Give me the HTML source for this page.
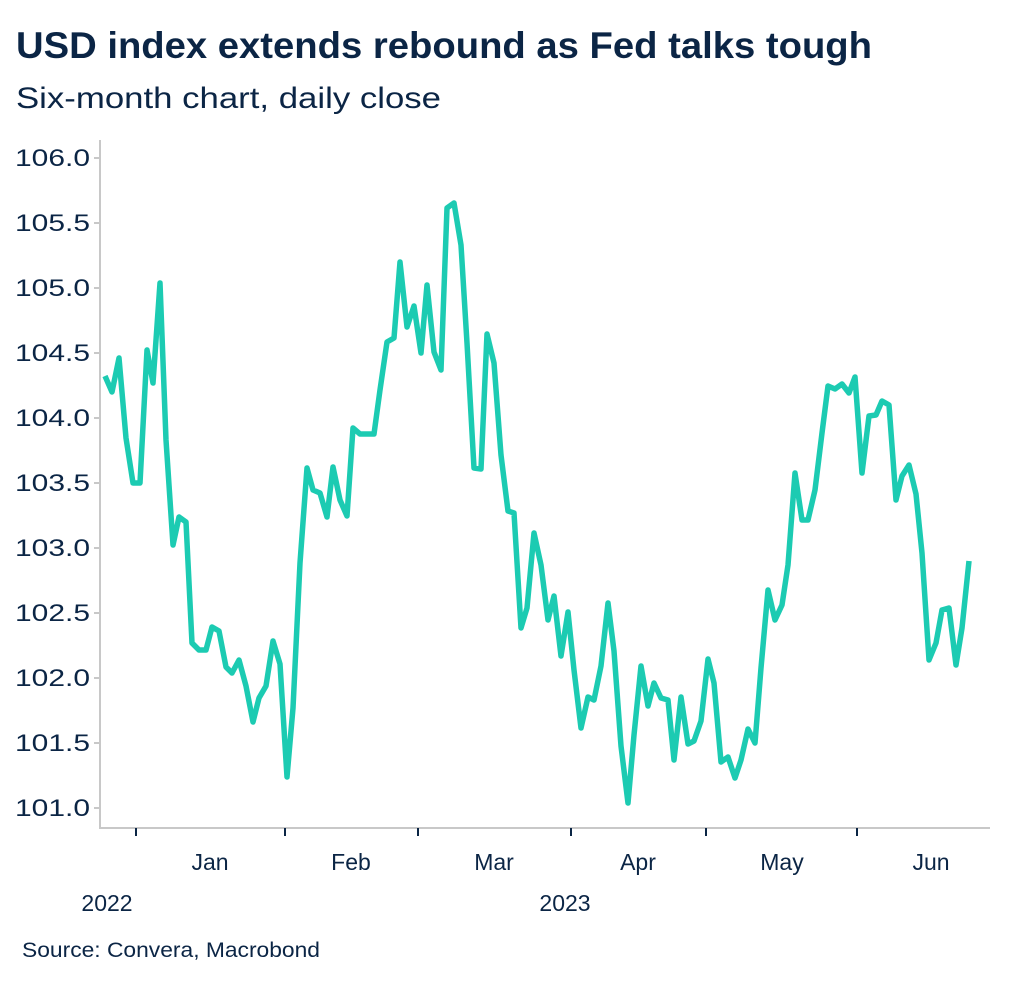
<!DOCTYPE html>
<html><head><meta charset="utf-8"><style>
html,body{margin:0;padding:0;background:#fff;}
body{width:1024px;height:987px;overflow:hidden;font-family:"Liberation Sans",sans-serif;}
</style></head><body>
<svg width="1024" height="987" viewBox="0 0 1024 987" xmlns="http://www.w3.org/2000/svg" font-family="Liberation Sans, sans-serif">
<text x="16" y="58" font-size="37" font-weight="bold" fill="#0b2545" textLength="856" lengthAdjust="spacingAndGlyphs">USD index extends rebound as Fed talks tough</text>
<text x="16" y="108" font-size="30" fill="#0b2545" textLength="425" lengthAdjust="spacingAndGlyphs">Six-month chart, daily close</text>
<g font-size="24" fill="#0b2545" text-anchor="end">
<text x="90" y="166" textLength="75" lengthAdjust="spacingAndGlyphs">106.0</text>
<text x="90" y="231" textLength="75" lengthAdjust="spacingAndGlyphs">105.5</text>
<text x="90" y="296" textLength="75" lengthAdjust="spacingAndGlyphs">105.0</text>
<text x="90" y="361" textLength="75" lengthAdjust="spacingAndGlyphs">104.5</text>
<text x="90" y="426" textLength="75" lengthAdjust="spacingAndGlyphs">104.0</text>
<text x="90" y="491" textLength="75" lengthAdjust="spacingAndGlyphs">103.5</text>
<text x="90" y="556" textLength="75" lengthAdjust="spacingAndGlyphs">103.0</text>
<text x="90" y="621" textLength="75" lengthAdjust="spacingAndGlyphs">102.5</text>
<text x="90" y="686" textLength="75" lengthAdjust="spacingAndGlyphs">102.0</text>
<text x="90" y="751" textLength="75" lengthAdjust="spacingAndGlyphs">101.5</text>
<text x="90" y="816" textLength="75" lengthAdjust="spacingAndGlyphs">101.0</text>
</g>
<g stroke="#c8c8c8" stroke-width="2" fill="none">
<line x1="100" y1="140" x2="100" y2="829"/>
<line x1="99" y1="828" x2="990" y2="828"/>
<line x1="94" y1="158" x2="100" y2="158"/><line x1="94" y1="223" x2="100" y2="223"/><line x1="94" y1="288" x2="100" y2="288"/><line x1="94" y1="353" x2="100" y2="353"/><line x1="94" y1="418" x2="100" y2="418"/><line x1="94" y1="483" x2="100" y2="483"/><line x1="94" y1="548" x2="100" y2="548"/><line x1="94" y1="613" x2="100" y2="613"/><line x1="94" y1="678" x2="100" y2="678"/><line x1="94" y1="743" x2="100" y2="743"/><line x1="94" y1="808" x2="100" y2="808"/>
</g>
<g stroke="#0b2545" stroke-width="2">
<line x1="136" y1="828" x2="136" y2="836"/><line x1="285" y1="828" x2="285" y2="836"/><line x1="418" y1="828" x2="418" y2="836"/><line x1="571" y1="828" x2="571" y2="836"/><line x1="706" y1="828" x2="706" y2="836"/><line x1="857" y1="828" x2="857" y2="836"/>
</g>
<g font-size="23" fill="#0b2545" text-anchor="middle">
<text x="210" y="870">Jan</text><text x="351" y="870">Feb</text><text x="494" y="870">Mar</text><text x="638" y="870">Apr</text><text x="782" y="870">May</text><text x="931" y="870">Jun</text>
<text x="107" y="911">2022</text><text x="565" y="911">2023</text>
</g>
<text x="22" y="957" font-size="21" fill="#0b2545" textLength="298" lengthAdjust="spacingAndGlyphs">Source: Convera, Macrobond</text>
<polyline fill="none" stroke="#1ccbb2" stroke-width="5.5" stroke-linejoin="round" points="105,376 112,392 119,358 126,438 133,483 140,483 147,350 153,383 160,283 166,440 173,545 179,517 186,522 192,643 199,650 206,650 212,627 219,631 226,667 232,673 239,660 246,686 253,722 259,698 266,686 273,641 280,664 287,777 293,708 300,563 307,468 313,490 320,493 327,517 333,467 340,500 347,516 353,428 360,434 367,434 374,434 380,390 387,342 394,338 400,262 407,327 414,306 421,353 427,285 434,352 441,370 447,208 454,203 461,245 467,343 474,468 481,469 487,334 494,363 501,455 508,511 514,513 521,628 527,608 534,533 541,565 548,620 554,596 561,656 568,612 574,670 581,728 588,697 594,700 601,666 608,603 614,651 621,746 628,803 634,735 641,666 648,706 654,683 661,698 668,700 674,760 681,697 688,744 694,741 701,721 708,659 714,683 721,762 728,757 735,778 741,760 748,729 755,743 761,668 768,590 775,620 782,605 788,565 795,473 802,520 808,520 815,490 822,433 828,386 835,389 842,384 849,393 855,377 862,473 869,416 876,415 882,401 889,405 896,500 902,476 909,465 916,494 922,553 929,660 936,643 942,610 949,608 956,665 962,628 969,561"/>
</svg>
</body></html>
